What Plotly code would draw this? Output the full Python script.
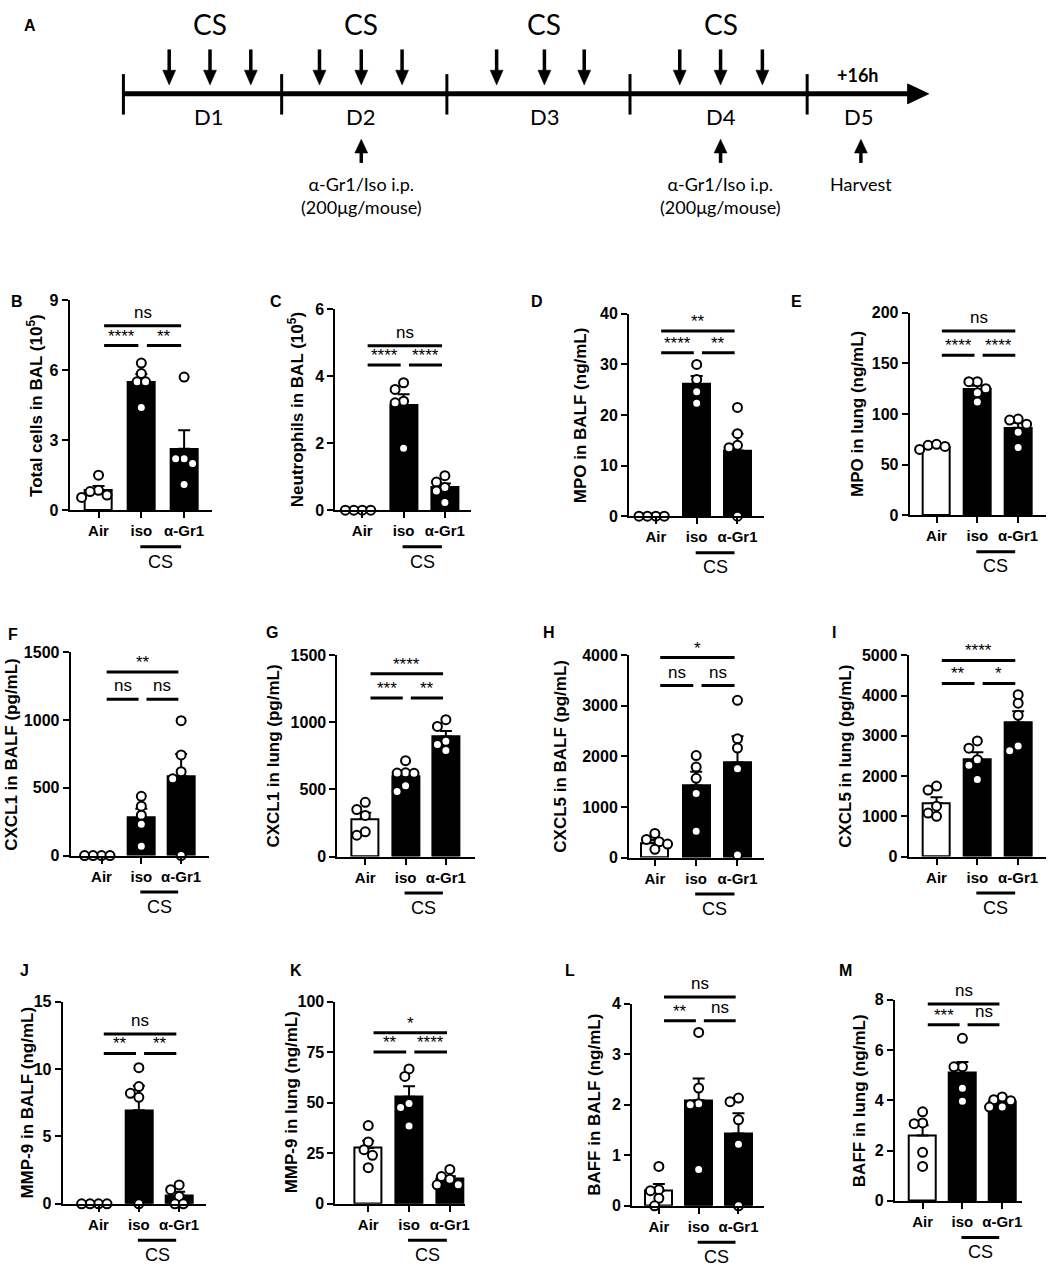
import plotly.graph_objects as go

W, H = 1054, 1276
FONT = "Liberation Sans, Arial, sans-serif"
FONT_A = "Lato, Open Sans, sans-serif"

groups = ["Air", "iso", "α-Gr1"]

# ---- data (mean, SEM, individual mice) ----
B_title = "Total cells in BAL (10<sup>5</sup>)"
B_mean = [0.87, 5.5, 2.63]
B_sem = [0.17, 0.33, 0.8]
B_points = [[1.5, 0.85, 0.8, 0.65, 0.55], [6.3, 5.85, 5.5, 5.5, 4.4], [5.7, 2.2, 2.2, 2.0, 1.1]]
B_ticks = [0, 3, 6, 9]
B_sig = [(0, 2, 7.9, "ns"), (0, 1, 7.05, "****"), (1, 2, 7.05, "**")]

C_title = "Neutrophils in BAL (10<sup>5</sup>)"
C_mean = [0.0, 3.14, 0.68]
C_sem = [0.0, 0.32, 0.12]
C_points = [[0, 0, 0, 0], [3.8, 3.6, 3.25, 3.2, 1.85], [1.03, 0.84, 0.68, 0.57, 0.23]]
C_ticks = [0, 2, 4, 6]
C_sig = [(0, 2, 4.9, "ns"), (0, 1, 4.33, "****"), (1, 2, 4.33, "****")]

D_title = "MPO in BALF (ng/mL)"
D_mean = [0.0, 26.1, 13.0]
D_sem = [0.0, 1.6, 3.3]
D_points = [[0, 0, 0, 0], [30.0, 27.0, 24.6, 22.3], [21.5, 16.3, 14.0, 13.5, 0.0]]
D_ticks = [0, 10, 20, 30, 40]
D_sig = [(0, 2, 36.6, "**"), (0, 1, 32.3, "****"), (1, 2, 32.3, "**")]

E_title = "MPO in lung (ng/mL)"
E_mean = [68.0, 124.5, 86.5]
E_sem = [1.0, 3.5, 4.8]
E_points = [[65, 69, 70, 68], [132, 132, 125, 121, 112], [95, 94, 90, 82, 67]]
E_ticks = [0, 50, 100, 150, 200]
E_sig = [(0, 2, 182, "ns"), (0, 1, 158, "****"), (1, 2, 158, "****")]

F_title = "CXCL1 in BALF (pg/mL)"
F_mean = [0, 280, 585]
F_sem = [0, 65, 165]
F_points = [[0, 0, 0, 0], [437, 364, 298, 231, 68], [995, 743, 619, 566, 0]]
F_ticks = [0, 500, 1000, 1500]
F_sig = [(0, 2, 1354, "**"), (0, 1, 1153, "ns"), (1, 2, 1153, "ns")]

G_title = "CXCL1 in lung (pg/mL)"
G_mean = [281, 600, 895]
G_sem = [45, 33, 40]
G_points = [[404, 350, 306, 184, 159], [714, 624, 622, 620, 528, 484], [1020, 970, 860, 835, 790]]
G_ticks = [0, 500, 1000, 1500]
G_sig = [(0, 2, 1363, "****"), (0, 1, 1182, "***"), (1, 2, 1182, "**")]

H_title = "CXCL5 in BALF (pg/mL)"
H_mean = [290, 1425, 1880]
H_sem = [55, 270, 520]
H_points = [[475, 358, 312, 267, 163], [2016, 1789, 1567, 1268, 520], [3109, 2348, 2166, 1756, 52]]
H_ticks = [0, 1000, 2000, 3000, 4000]
H_sig = [(0, 2, 3954, "*"), (0, 1, 3402, "ns"), (1, 2, 3402, "ns")]

I_title = "CXCL5 in lung (pg/mL)"
I_mean = [1330, 2425, 3330]
I_sem = [145, 165, 280]
I_points = [[1750, 1650, 1250, 1080, 1000], [2871, 2692, 2406, 2267, 1916], [4021, 3809, 3507, 2748, 2626]]
I_ticks = [0, 1000, 2000, 3000, 4000, 5000]
I_sig = [(0, 2, 4870, "****"), (0, 1, 4298, "**"), (1, 2, 4298, "*")]

J_title = "MMP-9 in BALF (ng/mL)"
J_mean = [0, 6.95, 0.62]
J_sem = [0, 1.8, 0.28]
J_points = [[0, 0, 0, 0], [10.1, 8.7, 8.2, 7.9, 0], [1.4, 1.05, 0.55, 0.0, 0.0]]
J_ticks = [0, 5, 10, 15]
J_sig = [(0, 2, 12.6, "ns"), (0, 1, 11.15, "**"), (1, 2, 11.15, "**")]

K_title = "MMP-9 in lung (ng/mL)"
K_mean = [27.6, 53.0, 12.3]
K_sem = [3.6, 5.2, 1.4]
K_points = [[38.7, 30.6, 26.8, 24.0, 17.9], [66.7, 63.0, 49.6, 47.6, 38.5], [17.0, 13.5, 12.2, 9.4, 9.4]]
K_ticks = [0, 25, 50, 75, 100]
K_sig = [(0, 2, 84.6, "*"), (0, 1, 75.1, "**"), (1, 2, 75.1, "****")]

L_title = "BAFF in BALF (ng/mL)"
L_mean = [0.3, 2.09, 1.43]
L_sem = [0.13, 0.43, 0.4]
L_points = [[0.78, 0.32, 0.3, 0.15, 0.0], [3.43, 2.33, 2.02, 2.0, 0.72], [2.13, 2.06, 1.7, 1.22, 0.0]]
L_ticks = [0, 1, 2, 3, 4]
L_sig = [(0, 2, 4.13, "ns"), (0, 1, 3.66, "**"), (1, 2, 3.66, "ns")]

M_title = "BAFF in lung (ng/mL)"
M_mean = [2.6, 5.08, 3.93]
M_sem = [0.41, 0.44, 0.08]
M_points = [[3.54, 3.1, 3.07, 1.93, 1.37], [6.46, 5.33, 5.33, 4.48, 3.96], [4.13, 4.02, 3.98, 3.73, 3.73]]
M_ticks = [0, 2, 4, 6, 8]
M_sig = [(0, 2, 7.83, "ns"), (0, 1, 7.0, "***"), (1, 2, 7.0, "ns")]

# timeline (panel A), in pixel units of a hidden axis
TL_DAYS = ["D1", "D2", "D3", "D4", "D5"]
TL_DAY_EDGES = [124, 283, 449, 633, 811]
TL_DAY_LABEL_X = [210, 363, 548, 724, 863]
TL_CS_X = [[170, 211, 252], [321, 363, 404], [499, 547, 587], [683, 724, 766]]
TL_CS_LABEL_X = [211, 363, 547, 724]
TL_TREAT_X = [363, 724]
TL_HARVEST_X = 865
TL_END = 933

panels = [
    ("B", B_title, B_mean, B_sem, B_points, B_ticks, B_sig),
    ("C", C_title, C_mean, C_sem, C_points, C_ticks, C_sig),
    ("D", D_title, D_mean, D_sem, D_points, D_ticks, D_sig),
    ("E", E_title, E_mean, E_sem, E_points, E_ticks, E_sig),
    ("F", F_title, F_mean, F_sem, F_points, F_ticks, F_sig),
    ("G", G_title, G_mean, G_sem, G_points, G_ticks, G_sig),
    ("H", H_title, H_mean, H_sem, H_points, H_ticks, H_sig),
    ("I", I_title, I_mean, I_sem, I_points, I_ticks, I_sig),
    ("J", J_title, J_mean, J_sem, J_points, J_ticks, J_sig),
    ("K", K_title, K_mean, K_sem, K_points, K_ticks, K_sig),
    ("L", L_title, L_mean, L_sem, L_points, L_ticks, L_sig),
    ("M", M_title, M_mean, M_sem, M_points, M_ticks, M_sig),
]

# layout geometry in pixels: axis left, axis right, top (ymax), bottom (y=0), Air centre, group spacing
GEOM = {
    "B": (70, 213, 296, 509, 99, 43), "C": (337, 473, 305, 509, 364, 41.5),
    "D": (632, 768, 310, 515, 659, 41), "E": (914, 1051, 309, 514, 941, 41),
    "F": (71, 210, 653, 859, 102, 40), "G": (339, 477, 656, 860, 367, 40.5),
    "H": (632, 768, 656, 861, 658, 41.5), "I": (913, 1051, 656, 860, 941, 41),
    "J": (63, 207, 1007, 1212, 99, 40.5), "K": (337, 467, 1007, 1212, 370, 41),
    "L": (635, 768, 1009, 1214, 662, 40), "M": (899, 1027, 1005, 1209, 927, 40),
}
TITLE_X = {"B": 35, "C": 297, "D": 583, "E": 861, "F": 12, "G": 275,
           "H": 563, "I": 850, "J": 28, "K": 293, "L": 598, "M": 863}
LETTER_XY = {"B": (17, 297), "C": (277, 297), "D": (540, 297), "E": (800, 297),
             "F": (13, 635), "G": (273, 633), "H": (552, 633), "I": (838, 633),
             "J": (25, 975), "K": (297, 975), "L": (573, 975), "M": (850, 975)}


def px(x):
    return x / W


def py(y):
    return 1 - y / H


def swarm(vals, unit_px, step_px, mind=8.5):
    # simple beeswarm so overlapping circles spread sideways like Prism does
    placed = []
    offs = [0.0] * len(vals)
    for i in sorted(range(len(vals)), key=lambda k: -vals[k]):
        yp = vals[i] * unit_px
        xp = 0.0
        for k in [0, -0.5, 0.5, -1, 1, -1.5, 1.5, -2, 2, -2.5, 2.5]:
            xp = k * mind
            if all((xp - a) ** 2 + (yp - b) ** 2 >= mind ** 2 - 1e-6 for a, b in placed):
                break
        placed.append((xp, yp))
        offs[i] = xp / step_px
    return offs


fig = go.Figure()
shapes, annos = [], []
layout = {}
xtickfont = dict(family=FONT, size=15, color="black", weight="bold")
ytickfont = dict(family=FONT, size=16, color="black", weight="bold")

for n, (key, title, mean, sem, pts, ticks, sig) in enumerate(panels, 1):
    left, right, top, bottom, c0, sp = GEOM[key]
    ymax = ticks[-1]
    unit = (bottom - top) / ymax
    xa, ya = ("x", "y") if n == 1 else (f"x{n}", f"y{n}")
    xname, yname = ("xaxis", "yaxis") if n == 1 else (f"xaxis{n}", f"yaxis{n}")

    fig.add_trace(go.Bar(
        x=[0, 1, 2], y=mean, width=27 / sp, xaxis=xa, yaxis=ya,
        marker=dict(color=["white", "black", "black"], line=dict(color="black", width=2)),
        error_y=dict(type="data", array=sem, arrayminus=[0, 0, 0], symmetric=False,
                     color="black", thickness=2, width=6),
        showlegend=False, hoverinfo="skip"))
    for g in range(3):
        offs = swarm(pts[g], unit, sp)
        fig.add_trace(go.Scatter(
            x=[g + o for o in offs], y=pts[g], mode="markers", xaxis=xa, yaxis=ya,
            marker=dict(size=9, color="white", line=dict(color="black", width=2)),
            cliponaxis=False, showlegend=False, hoverinfo="skip"))

    layout[xname] = dict(
        domain=[px(left), px(right)], range=[(left - c0) / sp, (right - c0) / sp], anchor=ya,
        tickvals=[0, 1, 2], ticktext=groups, showline=True, linewidth=2, linecolor="black",
        ticks="outside", ticklen=6, tickwidth=2, tickcolor="black", tickfont=xtickfont,
        showgrid=False, zeroline=False, fixedrange=True)
    layout[yname] = dict(
        domain=[py(bottom), py(top)], range=[0, ymax], anchor=xa,
        tickvals=ticks, showline=True, linewidth=2, linecolor="black",
        ticks="outside", ticklen=6, tickwidth=2, tickcolor="black", tickfont=ytickfont,
        showgrid=False, zeroline=False, fixedrange=True)

    # y title
    annos.append(dict(x=px(TITLE_X[key]), y=py((top + bottom) / 2), xref="paper", yref="paper",
                      text=title, textangle=-90, showarrow=False, xanchor="center", yanchor="middle",
                      font=dict(family=FONT, size=17, color="black", weight="bold")))
    # panel letter
    lx, ly = LETTER_XY[key]
    annos.append(dict(x=px(lx), y=py(ly), xref="paper", yref="paper", text=key, showarrow=False,
                      xanchor="center", yanchor="middle",
                      font=dict(family=FONT, size=16, color="black", weight="bold")))
    # significance bars
    for i, j, yv, lab in sig:
        x0 = c0 + (i + 0.13) * sp
        x1 = c0 + (j - 0.07) * sp
        yp = bottom - yv * unit
        shapes.append(dict(type="line", xref="paper", yref="paper", x0=px(x0), x1=px(x1),
                           y0=py(yp), y1=py(yp), line=dict(color="black", width=3)))
        if lab == "ns":
            annos.append(dict(x=px((x0 + x1) / 2), y=py(yp - 2), xref="paper", yref="paper",
                              text=lab, showarrow=False, xanchor="center", yanchor="bottom",
                              font=dict(family=FONT, size=17, color="black")))
        else:
            annos.append(dict(x=px((x0 + x1) / 2), y=py(yp + 2), xref="paper", yref="paper",
                              text=lab, showarrow=False, xanchor="center", yanchor="bottom",
                              font=dict(family=FONT, size=17, color="black")))
    # CS bracket under iso / a-Gr1
    cx0 = c0 + 1 * sp - 1
    cx1 = c0 + 2 * sp - 3
    shapes.append(dict(type="line", xref="paper", yref="paper", x0=px(cx0), x1=px(cx1),
                       y0=py(bottom + 37), y1=py(bottom + 37), line=dict(color="black", width=3)))
    annos.append(dict(x=px((cx0 + cx1) / 2), y=py(bottom + 52), xref="paper", yref="paper",
                      text="CS", showarrow=False, xanchor="center", yanchor="middle",
                      font=dict(family=FONT, size=18, color="black")))

# ---- panel A: exposure timeline on a hidden pixel-scaled axis ----
layout["xaxis13"] = dict(domain=[0, 1], range=[0, W], visible=False, anchor="y13", fixedrange=True)
layout["yaxis13"] = dict(domain=[py(220), 1], range=[220, 0], visible=False, anchor="x13", fixedrange=True)
ref = dict(xref="x13", yref="y13")
shapes.append(dict(type="line", x0=TL_DAY_EDGES[0], x1=TL_END - 18, y0=87, y1=87,
                   line=dict(color="black", width=5), **ref))
shapes.append(dict(type="path", path=f"M {TL_END-21} 77 L {TL_END-21} 97 L {TL_END} 87 Z",
                   fillcolor="black", line=dict(color="black", width=1), **ref))
for e in TL_DAY_EDGES:
    shapes.append(dict(type="line", x0=e, x1=e, y0=67, y1=108, line=dict(color="black", width=3), **ref))
for day in TL_CS_X:
    for x in day:
        shapes.append(dict(type="line", x0=x, x1=x, y0=42, y1=66, line=dict(color="black", width=3.5), **ref))
        shapes.append(dict(type="path", path=f"M {x-6.5} 63 L {x+6.5} 63 L {x} 78 Z",
                           fillcolor="black", line=dict(color="black", width=0.5), **ref))
for x in TL_TREAT_X + [TL_HARVEST_X]:
    shapes.append(dict(type="line", x0=x, x1=x, y0=145, y1=157, line=dict(color="black", width=3.5), **ref))
    shapes.append(dict(type="path", path=f"M {x-6.5} 147 L {x+6.5} 147 L {x} 133 Z",
                       fillcolor="black", line=dict(color="black", width=0.5), **ref))

fa = dict(family=FONT_A, color="black")
for x in TL_CS_LABEL_X:
    annos.append(dict(x=x, y=16, text="CS", showarrow=False, font=dict(size=28, **fa), **ref))
for x, d in zip(TL_DAY_LABEL_X, TL_DAYS):
    annos.append(dict(x=x, y=110, text=d, showarrow=False, font=dict(size=22, **fa), **ref))
for x in TL_TREAT_X:
    annos.append(dict(x=x, y=190, text="α-Gr1/Iso i.p.<br>(200μg/mouse)", showarrow=False,
                      font=dict(size=18, **fa), **ref))
annos.append(dict(x=TL_HARVEST_X, y=178, text="Harvest", showarrow=False, font=dict(size=18, **fa), **ref))
annos.append(dict(x=862, y=68, text="+16h", showarrow=False, font=dict(size=18, weight="bold", **fa), **ref))
annos.append(dict(x=30, y=18, text="A", showarrow=False,
                  font=dict(family=FONT, size=16, color="black", weight="bold"), **ref))

fig.update_layout(**layout)
fig.update_layout(
    width=W, height=H, margin=dict(l=0, r=0, t=0, b=0),
    plot_bgcolor="white", paper_bgcolor="white",
    shapes=shapes, annotations=annos, bargap=0,
)

fig.write_html("out.html", config={"displayModeBar": False},
               post_script="document.body.style.margin = '0px';")
